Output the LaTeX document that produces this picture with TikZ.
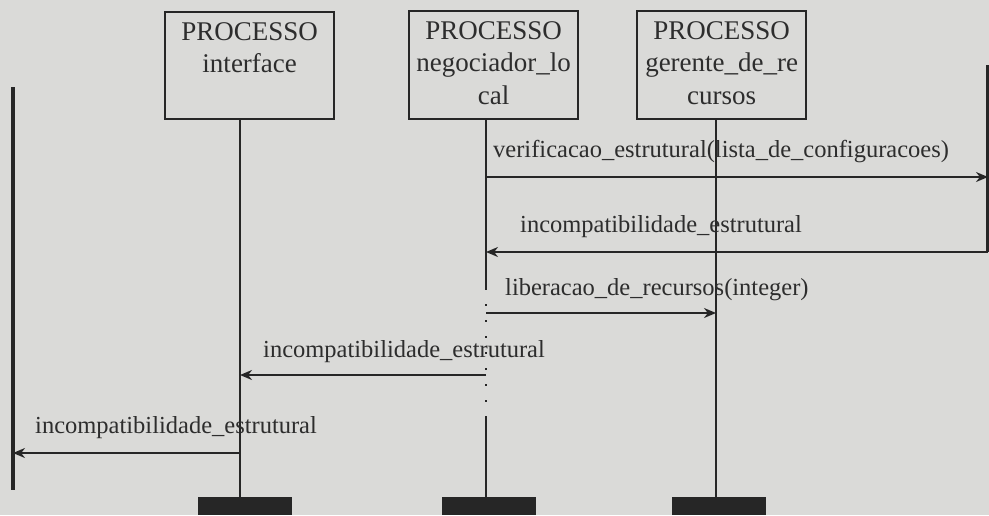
\documentclass[tikz,border=0pt]{standalone}
\usepackage{fontspec}
\setmainfont{Liberation Serif}
\usetikzlibrary{arrows.meta}
\definecolor{bg}{RGB}{218,218,216}
\definecolor{ink}{RGB}{38,38,38}
\definecolor{txt}{RGB}{45,45,45}
\tikzset{
  procbox/.style={draw=ink, line width=2.4pt, inner sep=0pt, anchor=north west, text=txt},
  lifeline/.style={draw=ink, line width=2.2pt},
  brokenline/.style={draw=ink, line width=2.2pt, dash pattern=on 2pt off 14pt},
  envline/.style={draw=ink, line width=3.5pt},
  msg/.style={draw=ink, line width=2pt, -{Stealth[length=12pt,width=10pt]}},
  msglabel/.style={anchor=base west, inner sep=0pt, text=txt, font=\fontsize{24.5}{28}\selectfont},
  endbar/.style={fill=ink, draw=none, inner sep=0pt, anchor=north west, minimum width=94pt, minimum height=18pt},
}
\newcommand{\procbody}[3]{\parbox[c][#1][t]{#2}{\centering\fontsize{27}{32.5}\selectfont\vspace{10pt}#3}}
\begin{document}
\begin{tikzpicture}[x=1pt,y=-1pt]
\fill[bg] (0,0) rectangle (989,515);
\useasboundingbox (0,0) rectangle (989,515);

% process boxes
\node[procbox] (b1) at (164,11) {\procbody{107pt}{169pt}{PROCESSO\\interface}};
\node[procbox] (b2) at (408,10) {\procbody{108pt}{169pt}{PROCESSO\\negociador\_lo\\cal}};
\node[procbox] (b3) at (636,10) {\procbody{108pt}{169pt}{PROCESSO\\gerente\_de\_re\\cursos}};

% end bars
\node[endbar] (e1) at (198,497) {};
\node[endbar] (e2) at (442,497) {};
\node[endbar] (e3) at (672,497) {};

% lifeline anchor points
\coordinate (l1) at (240,118);
\coordinate (l2) at (486,118);
\coordinate (l3) at (716,118);
\coordinate (l2a) at (486,288);
\coordinate (l2b) at (486,417);

% environment lines
\coordinate (envLt) at (13,87);
\coordinate (envLb) at (13,490);
\coordinate (envRt) at (988,65);
\coordinate (envRb) at (988,252);
\draw[envline] (envLt) -- (envLb);
\draw[envline] (envRt) -- (envRb);

% lifelines
\draw[lifeline] (l1) -- (l1 |- e1.north);
\draw[lifeline] (l2) -- (l2a);
\draw[brokenline] (l2a) -- (l2b);
\draw[lifeline] (l2b) -- (l2 |- e2.north);
\draw[lifeline] (l3) -- (l3 |- e3.north);

% messages
\draw[msg] (l2 |- 0,177) -- (envRt |- 0,177);
\draw[msg] (envRb) -- (l2 |- envRb);
\draw[msg] (l2 |- 0,313) -- (l3 |- 0,313);
\draw[msg] (l2 |- 0,375) -- (l1 |- 0,375);
\draw[msg] (l1 |- 0,453) -- (envLt |- 0,453);

% labels
\node[msglabel] (t1) at (493,157) {verificacao\_estrutural(lista\_de\_configuracoes)};
\node[msglabel] (t2) at (520,232) {incompatibilidade\_estrutural};
\node[msglabel] (t3) at (505,295) {liberacao\_de\_recursos(integer)};
\node[msglabel] (t4) at (263,357) {incompatibilidade\_estrutural};
\node[msglabel] (t5) at (35,433) {incompatibilidade\_estrutural};
\end{tikzpicture}
\end{document}
